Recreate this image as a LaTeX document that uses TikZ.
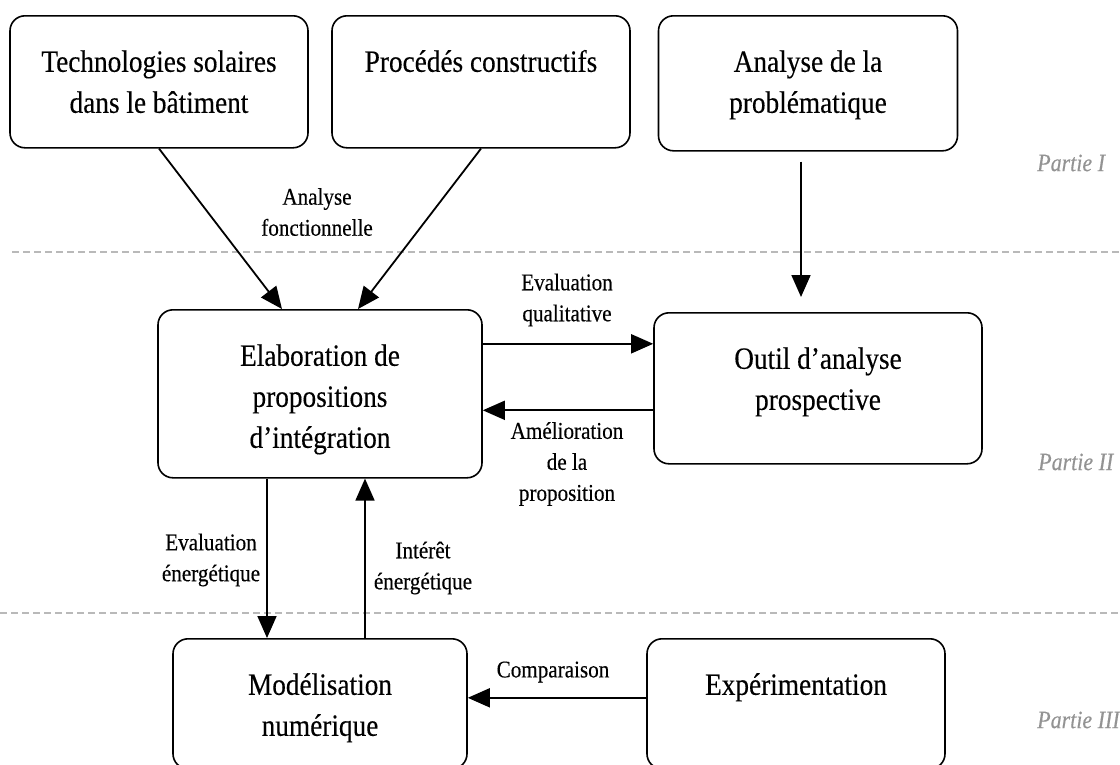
\documentclass[tikz,border=0pt]{standalone}
\usepackage{fontspec}
\setmainfont[FakeStretch=0.88, FakeBold=0.3]{Liberation Serif}
\usetikzlibrary{arrows.meta}

\begin{document}
\begin{tikzpicture}[
    x=1pt, y=1pt,
    font=\fontsize{31}{41}\selectfont,
    bloc/.style={rectangle, draw=black, line width=1.6pt, rounded corners=15pt, anchor=north, align=flush center, inner sep=0pt, text height=56pt},
    lbl/.style={font=\fontsize{24}{31}\selectfont, align=center, inner sep=0pt},
    partie/.style={font=\fontsize{25}{26}\selectfont\itshape, text=gray!85, anchor=west, inner sep=0pt},
    arrow/.style={line width=1.8pt, ->, >={Triangle[length=22pt, width=19pt]}},
    separation/.style={draw=gray!55, line width=2pt, dash pattern=on 7pt off 4pt}
]
\clip (0, 0) rectangle (1120, -764);

% --- Nodes ---
% Partie I
\node (techno) at (159, -15) [bloc, text width=298pt, text depth=76pt] {Technologies solaires\\ dans le bâtiment};
\node (procedes) at (481, -15) [bloc, text width=298pt, text depth=76pt] {Procédés constructifs};
\node (analyse) at (808, -15) [bloc, text width=299pt, text depth=79pt] {Analyse de la\\ problématique};

% Partie II
\node (elab) at (320, -309) [bloc, text width=324pt, text depth=112pt] {Elaboration de\\ propositions\\ d’intégration};
\node (outil) at (818, -312) [bloc, text width=328pt, text depth=95pt] {Outil d’analyse\\ prospective};

% Partie III
\node (modele) at (320, -638) [bloc, text width=294pt, text depth=74pt] {Modélisation\\ numérique};
\node (experience) at (796, -638) [bloc, text width=298pt, text depth=74pt] {Expérimentation};

% Parties
\node (p1) at (1037, -163) [partie] {Partie I};
\node (p2) at (1038, -462) [partie] {Partie II};
\node (p3) at (1037, -720) [partie] {Partie III};

% Separations
\draw [separation] (12, -252) -- (1120, -252);
\draw [separation] (0, -613) -- (1120, -613);

% --- Edges ---
\draw [arrow] (techno.south) -- ([xshift=-38pt]elab.north);
\draw [arrow] (procedes.south) -- ([xshift=38pt]elab.north);
\draw [arrow, shorten <=10pt, shorten >=15pt] ([xshift=-7pt]analyse.south) -- ([xshift=-7pt]analyse.south |- outil.north);

\draw [arrow] ([yshift=50pt]elab.east) -- ([yshift=50pt]elab.east -| outil.west);
\draw [arrow] ([yshift=-22pt]outil.west) -- ([yshift=-22pt]outil.west -| elab.east);

\draw [arrow] ([xshift=-53pt]elab.south) -- ([xshift=-53pt]elab.south |- modele.north);
\draw [arrow] ([xshift=45pt]modele.north) -- ([xshift=45pt]modele.north |- elab.south);
\draw [arrow] ([yshift=6pt]experience.west) -- ([yshift=6pt]experience.west -| modele.east);

% Edge labels
\node (l_fonc) at (317, -212) [lbl] {Analyse\\ fonctionnelle};
\node (l_qual) at (567, -300) [lbl] {Evaluation\\ qualitative};
\node (l_amel) at (567, -464) [lbl] {Amélioration\\ de la\\ proposition};
\node (l_ener) at (211, -560) [lbl] {Evaluation\\ énergétique};
\node (l_inte) at (423, -568) [lbl] {Intérêt\\ énergétique};
\node (l_comp) at (553, -672) [lbl] {Comparaison};

\end{tikzpicture}
\end{document}
